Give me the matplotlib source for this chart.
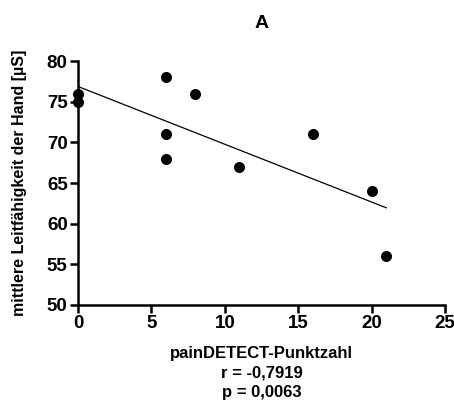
import numpy as np
import matplotlib
matplotlib.use("Agg")
import matplotlib.pyplot as plt

plt.rcParams['font.family'] = ['Liberation Sans', 'DejaVu Sans']
plt.rcParams['font.weight'] = 'bold'

x_vals = [0, 0, 6, 6, 6, 8, 11, 16, 20, 21]
y_vals = [76, 75, 78, 71, 68, 76, 67, 71, 64, 56]
x_ticks = [0, 5, 10, 15, 20, 25]
y_ticks = [50, 55, 60, 65, 70, 75, 80]

fig = plt.figure(figsize=(4.54, 4.05), dpi=100)
ax = fig.add_axes([0.172, 0.247, 0.808, 0.602])

slope, intercept = np.polyfit(x_vals, y_vals, 1)
xl = np.array([min(x_vals), max(x_vals)])
ax.plot(xl, slope * xl + intercept, color='black', lw=0.9, zorder=2)
ax.scatter(x_vals, y_vals, s=48, color='black', zorder=3, clip_on=False)

ax.set_xlim(0, 25)
ax.set_ylim(50, 80)
ax.set_xticks(x_ticks)
ax.set_yticks(y_ticks)
for s in ['top', 'right']:
    ax.spines[s].set_visible(False)
for s in ['left', 'bottom']:
    ax.spines[s].set_linewidth(1.8)
ax.tick_params(width=1.8, length=5.5, labelsize=13.5, pad=2)
for lab in ax.get_xticklabels() + ax.get_yticklabels():
    lab.set_fontweight('bold')

ax.set_xlabel("painDETECT-Punktzahl\nr = -0,7919\np = 0,0063", fontsize=12, fontweight='bold', linespacing=1.35, labelpad=10)
ax.set_ylabel("mittlere Leitfähigkeit der Hand [µS]", fontsize=11.5, fontweight='bold', labelpad=14)
ax.set_title("A", fontsize=14, fontweight='bold', pad=24)

fig.savefig("out.png", dpi=100)
